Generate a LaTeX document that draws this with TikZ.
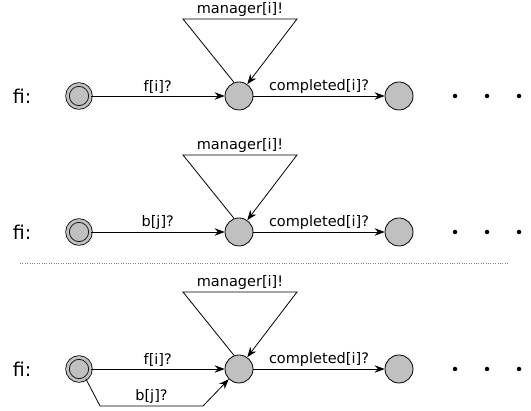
\documentclass[tikz,border=0pt]{standalone}
\usepackage{fontspec}
\setmainfont{DejaVu Sans}
\usepackage{tikz}
\usetikzlibrary{arrows.meta,positioning,calc}
\definecolor{stateGray}{RGB}{192,192,192}

\tikzset{
  state/.style={draw, circle, fill=stateGray, minimum size=28pt, inner sep=0pt, line width=0.8pt},
  initstate/.style={state, double=stateGray, double distance=2.8pt, minimum size=23pt},
  trans/.style={-{Stealth[length=10pt,width=7.5pt]}, line width=0.8pt},
  lbl/.style={font=\fontsize{14.5}{16}\selectfont, inner sep=1pt},
  dot/.style={circle, fill, inner sep=0pt, minimum size=4.5pt},
}

\begin{document}
\begin{tikzpicture}[x=1pt,y=-1pt]
\useasboundingbox (0,0) rectangle (531,411);
% three automata, one per row
\foreach \r/\y/\ch in {1/96/{f[i]?}, 2/232/{b[j]?}, 3/369/{f[i]?}} {
  \node[font=\fontsize{19}{22}\selectfont] (name\r) at (22,\y) {fi:};
  \node[initstate] (init\r) at (79,\y) {};
  \node[state] (mid\r) at (239,\y) {};
  \node[state] (next\r) at (399,\y) {};
  \node[dot] (dotA\r) at (455,\y) {};
  \node[dot] (dotB\r) at (487,\y) {};
  \node[dot] (dotC\r) at (519,\y) {};
  \coordinate (tl\r) at (183,\y-77);
  \coordinate (tr\r) at (297,\y-77);
  \draw[trans] (init\r) -- node[lbl, above=1pt] (in\r) {\ch} (mid\r);
  \draw[trans] (mid\r) -- node[lbl, above=1pt] (done\r) {completed[i]?} (next\r);
  \draw[trans] (mid\r.110) -- (tl\r) -- node[lbl, above=1pt] (mgr\r) {manager[i]!} (tr\r) -- (mid\r.55);
}
% extra edge in the last row
\coordinate (bl3) at (100,406);
\coordinate (br3) at (203,406);
\draw[trans] (init3.-55) -- (bl3) -- node[lbl, above=1pt] (bj3) {b[j]?} (br3) -- (mid3.-135);
% separator
\coordinate (sepL) at (20,263);
\coordinate (sepR) at (508,263);
\draw[dotted, gray] (sepL) -- (sepR);
\end{tikzpicture}
\end{document}
